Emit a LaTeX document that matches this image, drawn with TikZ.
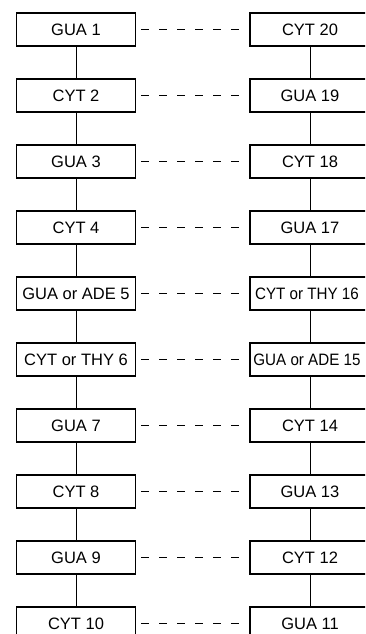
\documentclass[tikz,border=0pt]{standalone}
\usepackage{graphicx}
\usepackage{fontspec}
\setmainfont{Liberation Sans}
\newcommand\sqtext[1]{\hspace*{-6pt}\scalebox{0.92}[1]{#1}}
\begin{document}
\begin{tikzpicture}[x=1pt,y=-1pt,
  base/.style={draw, line width=1.2pt, minimum width=119pt, minimum height=33pt,
    inner sep=0pt, font=\fontsize{16.5}{18}\selectfont},
  rbase/.style={base, minimum width=120pt},
  pair/.style={line width=0.9pt, dash pattern=on 8pt off 10pt, shorten <=5pt},
  strand/.style={line width=0.9pt}]
\useasboundingbox (0,0) rectangle (365,634);
\clip (0,0) rectangle (365,634);
\foreach \i/\lt/\rt in {1/GUA 1/CYT 20, 2/CYT 2/GUA 19, 3/GUA 3/CYT 18, 4/CYT 4/GUA 17,
  5/GUA or ADE 5/{\sqtext{CYT or THY 16}}, 6/CYT or THY 6/{\sqtext{GUA or ADE 15}}, 7/GUA 7/CYT 14,
  8/CYT 8/GUA 13, 9/GUA 9/CYT 12, 10/CYT 10/GUA 11} {
  \node[base] (L\i) at (76, {29.5+66*(\i-1)}) {\lt};
  \node[rbase] (R\i) at (310, {29.5+66*(\i-1)}) {\rt};
}
\foreach \i in {1,...,10} {
  \draw[pair] (L\i) -- (R\i);
}
\foreach \i [evaluate=\i as \j using int(\i+1)] in {1,...,9} {
  \draw[strand] (L\i) -- (L\j);
  \draw[strand] (R\i) -- (R\j);
}
\end{tikzpicture}
\end{document}
